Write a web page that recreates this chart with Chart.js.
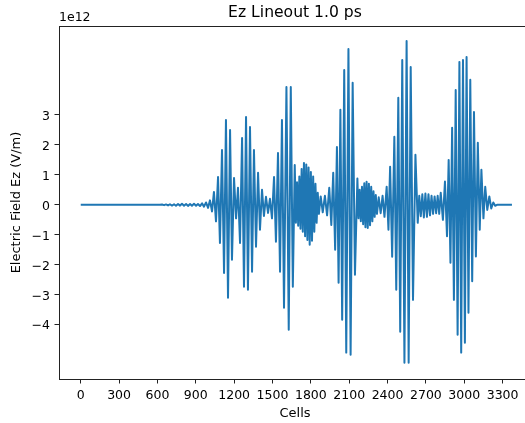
<!DOCTYPE html>
<html>
<head>
<meta charset="utf-8">
<script src="https://cdn.jsdelivr.net/npm/chart.js@4/dist/chart.umd.min.js"></script>
<style>
  html, body { margin: 0; padding: 0; background: #fff; overflow: hidden; }
  #wrap { width: 540px; height: 423px; }
</style>
</head>
<body>
<div id="wrap"><canvas id="lineout" width="540" height="423"></canvas></div>
<script>
// Ez lineout at 1.0 ps, values in units of 1e12 V/m (extrema)
const cells = [
  0, 620,
  636, 652, 667, 683, 698, 714, 730, 745, 761, 777, 792, 808,
  824, 839, 855, 870, 886, 902, 917, 933, 949, 964, 980, 996,
  1011, 1027, 1042, 1058, 1074, 1089, 1105, 1121, 1136, 1152, 1168, 1183,
  1199, 1215, 1230, 1246, 1262, 1277, 1293, 1308, 1324, 1340, 1355, 1371,
  1387, 1402, 1418, 1433, 1449, 1465, 1480, 1496, 1512, 1527, 1543, 1559,
  1574, 1590, 1609, 1627, 1643, 1659, 1674,
  1683, 1692, 1701, 1710, 1719, 1728, 1737, 1746, 1755, 1764, 1773, 1782,
  1791, 1800, 1809, 1818, 1827, 1836, 1845, 1854, 1863,
  1877, 1893, 1910, 1927,
  1944, 1960, 1975, 1990, 2004, 2017, 2031, 2045, 2061, 2077, 2094, 2111,
  2127, 2145, 2164,
  2173, 2182, 2191, 2200, 2209, 2218, 2227, 2236, 2245, 2254, 2263, 2272,
  2281, 2290, 2299, 2308, 2317,
  2331, 2346, 2361, 2376,
  2393, 2407, 2420, 2436, 2453, 2468, 2484, 2499, 2515, 2532, 2549, 2565,
  2581, 2599, 2618, 2636,
  2648, 2660, 2672, 2684, 2696, 2708, 2720, 2732, 2744, 2756, 2768, 2780,
  2792, 2804, 2816, 2833,
  2849, 2865, 2878, 2892, 2905, 2919, 2933, 2948, 2962, 2976, 2990, 3005,
  3018, 3033, 3047, 3062, 3076, 3091, 3106, 3121, 3134, 3150, 3164, 3180,
  3196, 3211, 3227, 3242, 3256, 3373
];

const ezField = [
  0, 0,
  0.01, -0.01, 0.015, -0.02, 0.02, -0.025, 0.02, -0.03, 0.03, -0.025, 0.035, -0.03,
  0.03, -0.035, 0.03, -0.03, 0.035, -0.03, 0.03, -0.04, 0.05, -0.06, 0.08, -0.1,
  0.15, -0.22, 0.43, -0.55, 0.93, -1.27, 1.83, -2.27, 2.83, -3.1, 2.5, -1.83,
  0.9, -0.45, 0.57, -1.27, 2.23, -2.73, 2.93, -2.83, 2.6, -2.23, 1.83, -1.4,
  1.07, -0.83, 0.5, -0.37, 0.27, -0.27, 0.2, -0.45, 0.93, -1.23, 1.73, -2.23,
  2.83, -3.43, 3.93, -4.17, 3.93, -2.73, 1.33,
  -0.6, 0.75, -0.7, 0.95, -0.8, 1.2, -0.9, 1.4, -1.05, 1.35, -1.17, 1.25,
  -1.33, 1.1, -1.2, 0.95, -0.9, 0.7, -0.6, 0.4, -0.3,
  0.28, -0.25, 0.3, -0.35,
  0.57, -0.67, 1.07, -1.5, 1.93, -2.6, 3.17, -3.83, 4.5, -4.93, 5.2, -5.0,
  4.07, -2.33, 0.88,
  -0.45, 0.5, -0.55, 0.6, -0.65, 0.72, -0.75, 0.77, -0.77, 0.7, -0.68, 0.6,
  -0.55, 0.45, -0.4, 0.33, -0.3,
  0.25, -0.28, 0.3, -0.4,
  0.6, -0.83, 1.27, -1.73, 2.27, -2.83, 3.57, -4.23, 4.83, -5.27, 5.47, -5.27,
  4.6, -3.17, 1.67, -0.6,
  0.3, -0.38, 0.35, -0.42, 0.38, -0.4, 0.35, -0.35, 0.3, -0.3, 0.28, -0.28,
  0.3, -0.3, 0.4, -0.5,
  0.78, -1.05, 1.5, -1.93, 2.57, -3.17, 3.83, -4.33, 4.77, -4.93, 4.83, -4.6,
  4.93, -3.6, 4.17, -2.55, 3.1, -1.72, 2.07, -0.83, 1.17, -0.45, 0.6, -0.17,
  0.28, -0.12, 0.08, -0.03, 0, 0
];

const xTickValues = [0, 300, 600, 900, 1200, 1500, 1800, 2100, 2400, 2700, 3000, 3300];
const yTickValues = [-4, -3, -2, -1, 0, 1, 2, 3];

const FONT = "'DejaVu Sans', sans-serif";

function fmtTick(v) {
  return v < 0 ? '\u2212' + Math.abs(v) : String(v);
}

// matplotlib-ish frame + texts
const decorations = {
  id: 'decorations',
  afterDraw(chart) {
    const { ctx, chartArea: a } = chart;
    ctx.save();
    ctx.strokeStyle = '#222';
    ctx.lineWidth = 1;
    ctx.strokeRect(Math.round(a.left) + 0.5, Math.round(a.top) + 0.5,
      Math.round(a.right - a.left), Math.round(a.bottom - a.top));

    const cx = (a.left + a.right) / 2;
    ctx.fillStyle = '#000';
    ctx.textAlign = 'center';
    ctx.textBaseline = 'alphabetic';
    ctx.font = '15.6px ' + FONT;
    ctx.fillText('Ez Lineout 1.0 ps', cx, 16.5);

    ctx.font = '13px ' + FONT;
    ctx.fillText('Cells', cx, 417);

    ctx.textAlign = 'left';
    ctx.font = '12.5px ' + FONT;
    ctx.fillText('1e12', a.left, 20.7);

    ctx.translate(17, (a.top + a.bottom) / 2);
    ctx.rotate(-Math.PI / 2);
    ctx.textAlign = 'center';
    ctx.textBaseline = 'middle';
    ctx.font = '13px ' + FONT;
    ctx.fillText('Electric Field Ez (V/m)', 0, 0);
    ctx.restore();
  }
};

new Chart(document.getElementById('lineout'), {
  type: 'line',
  data: {
    datasets: [{
      data: cells.map((c, i) => ({ x: c, y: ezField[i] })),
      borderColor: '#1f77b4',
      borderWidth: 2,
      borderJoinStyle: 'round',
      pointRadius: 0,
      tension: 0,
      fill: false
    }]
  },
  options: {
    responsive: false,
    animation: false,
    layout: { padding: { left: 0, top: 26, right: 9, bottom: 0 } },
    plugins: {
      legend: { display: false },
      tooltip: { enabled: false },
      title: { display: false }
    },
    scales: {
      x: {
        type: 'linear',
        min: -170,
        max: 3522,
        afterFit: s => { s.height = 44; },
        afterBuildTicks: s => { s.ticks = xTickValues.map(v => ({ value: v })); },
        grid: { display: true, drawOnChartArea: false, drawTicks: true, tickLength: 4.5, color: '#222' },
        border: { display: true, color: '#222', width: 1 },
        ticks: {
          autoSkip: false, maxRotation: 0, minRotation: 0, padding: 5,
          color: '#000', font: { family: FONT, size: 12.5 },
          callback: v => fmtTick(v)
        }
      },
      y: {
        type: 'linear',
        min: -5.81,
        max: 5.967,
        afterFit: s => { s.width = 59; },
        afterBuildTicks: s => { s.ticks = yTickValues.map(v => ({ value: v })); },
        grid: { display: true, drawOnChartArea: false, drawTicks: true, tickLength: 4.5, color: '#222' },
        border: { display: true, color: '#222', width: 1 },
        ticks: {
          autoSkip: false, padding: 4.5, labelOffset: 1.5,
          color: '#000', font: { family: FONT, size: 12.5 },
          callback: v => fmtTick(v)
        }
      }
    }
  },
  plugins: [decorations]
});
</script>
</body>
</html>
